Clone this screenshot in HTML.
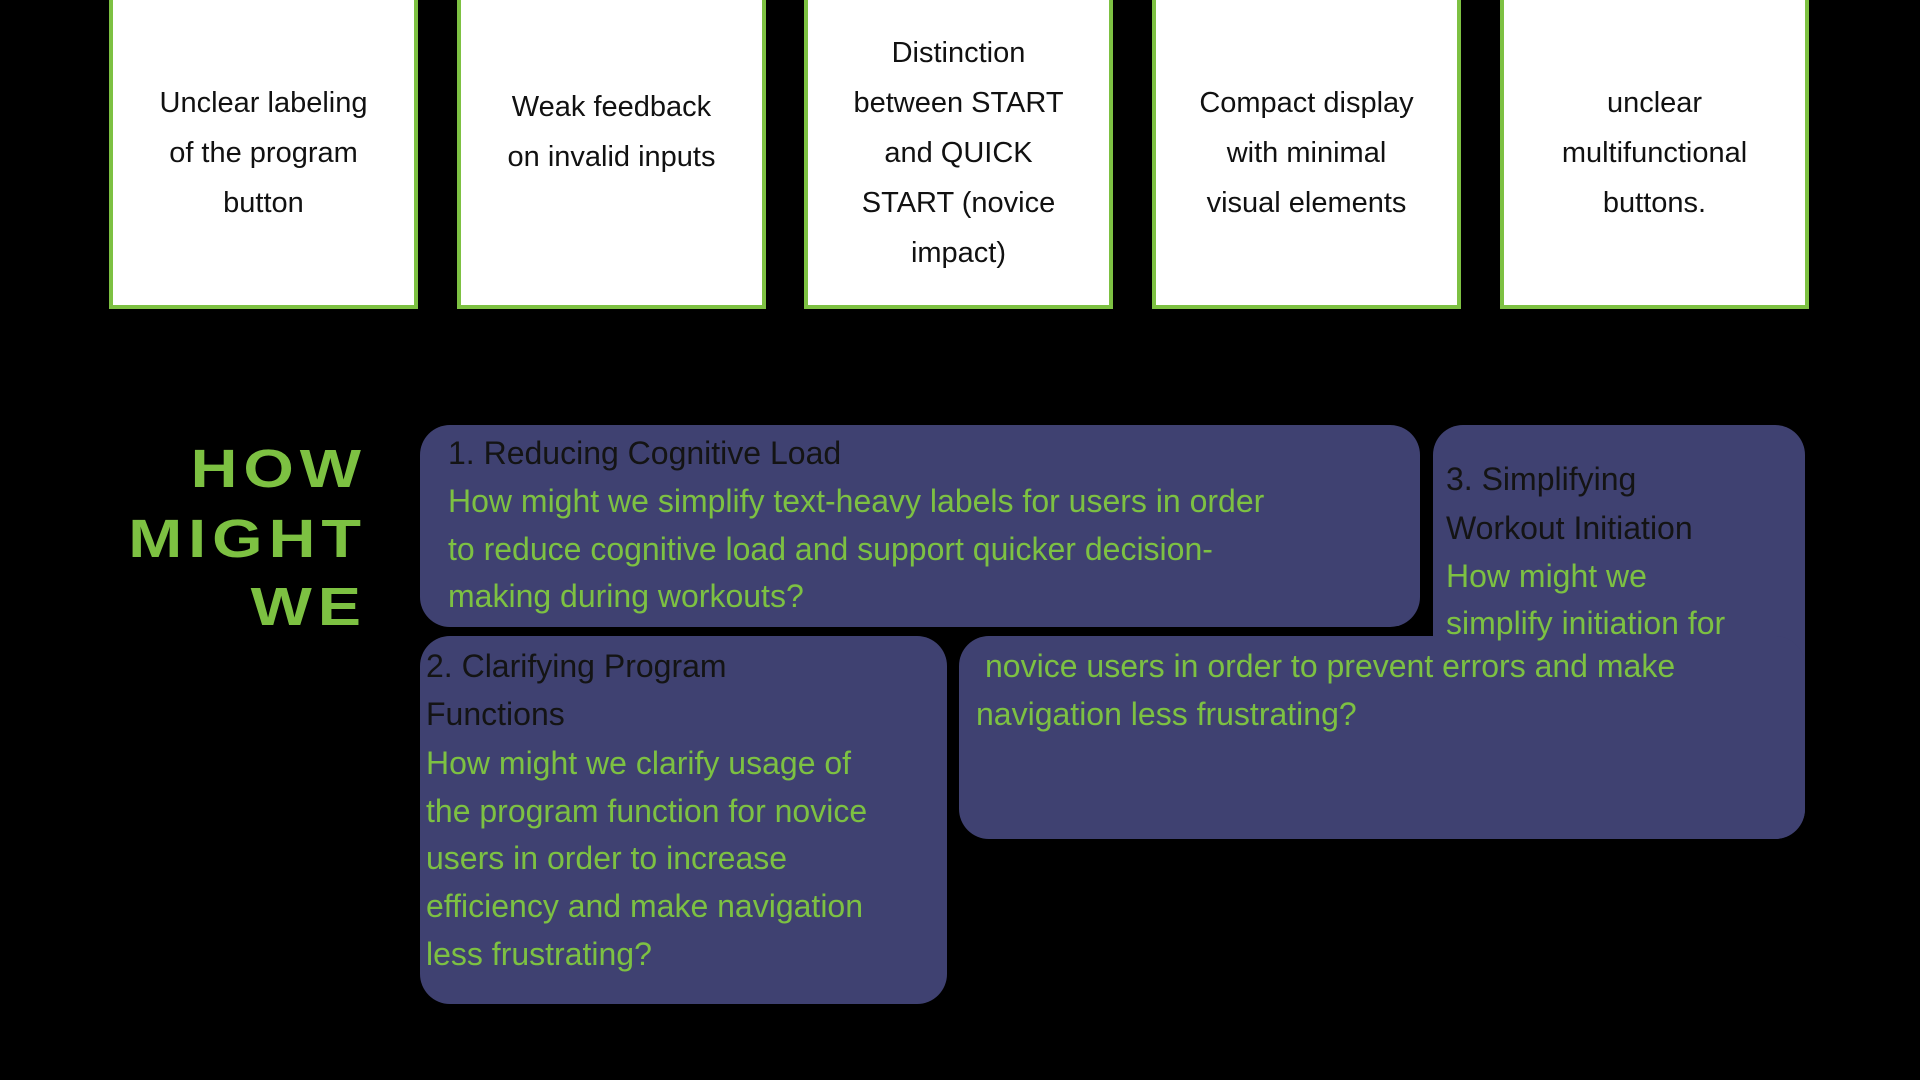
<!DOCTYPE html>
<html><head><meta charset="utf-8"><style>
body{margin:0;width:1920px;height:1080px;background:#000;position:relative;overflow:hidden;font-family:"Liberation Sans",sans-serif}
.tb{position:absolute;top:-4px;height:305px;width:301px;background:#fff;border:4px solid #7dc142;display:flex;align-items:center;justify-content:center;text-align:center;font-size:29px;line-height:50px;color:#111}
.p{position:absolute;background:#3f4171;border-radius:30px}
.l{position:absolute;white-space:nowrap;font-size:32px;line-height:48px;color:#7dc142}
.d{color:#141414}
.h{position:absolute;right:1553px;font-weight:900;font-size:54px;color:#7dc142;letter-spacing:5px;transform:scaleX(1.2);transform-origin:right center;line-height:60px}
</style></head><body>
<div class="tb" style="left:109px">Unclear labeling<br>of the program<br>button</div>
<div class="tb" style="left:457px;align-items:flex-start;padding-top:0"><div style="margin-top:82px">Weak feedback<br>on invalid inputs</div></div>
<div class="tb" style="left:804px">Distinction<br>between START<br>and QUICK<br>START (novice<br>impact)</div>
<div class="tb" style="left:1152px">Compact display<br>with minimal<br>visual elements</div>
<div class="tb" style="left:1500px">unclear<br>multifunctional<br>buttons.</div>

<div class="h" style="top:439px">HOW</div>
<div class="h" style="top:509px">MIGHT</div>
<div class="h" style="top:577px">WE</div>

<div class="p" style="left:1433px;top:425px;width:372px;height:414px"></div>
<div class="p" style="left:959px;top:636px;width:846px;height:203px"></div>
<div class="p" style="left:420px;top:425px;width:1000px;height:202px;box-shadow:8px 8px 0 #000"></div>
<div class="p" style="left:420px;top:636px;width:527px;height:368px"></div>

<div class="l d" style="left:448px;top:429px">1. Reducing Cognitive Load</div>
<div class="l" style="left:448px;top:477px">How might we simplify text-heavy labels for users in order</div>
<div class="l" style="left:448px;top:525px">to reduce cognitive load and support quicker decision-</div>
<div class="l" style="left:448px;top:572px">making during workouts?</div>

<div class="l d" style="left:426px;top:642px">2. Clarifying Program</div>
<div class="l d" style="left:426px;top:690px">Functions</div>
<div class="l" style="left:426px;top:739px">How might we clarify usage of</div>
<div class="l" style="left:426px;top:787px">the program function for novice</div>
<div class="l" style="left:426px;top:834px">users in order to increase</div>
<div class="l" style="left:426px;top:882px">efficiency and make navigation</div>
<div class="l" style="left:426px;top:930px">less frustrating?</div>

<div class="l d" style="left:1446px;top:455px">3. Simplifying</div>
<div class="l d" style="left:1446px;top:504px">Workout Initiation</div>
<div class="l" style="left:1446px;top:552px">How might we</div>
<div class="l" style="left:1446px;top:599px">simplify initiation for</div>
<div class="l" style="left:985px;top:642px">novice users in order to prevent errors and make</div>
<div class="l" style="left:976px;top:690px">navigation less frustrating?</div>
</body></html>
